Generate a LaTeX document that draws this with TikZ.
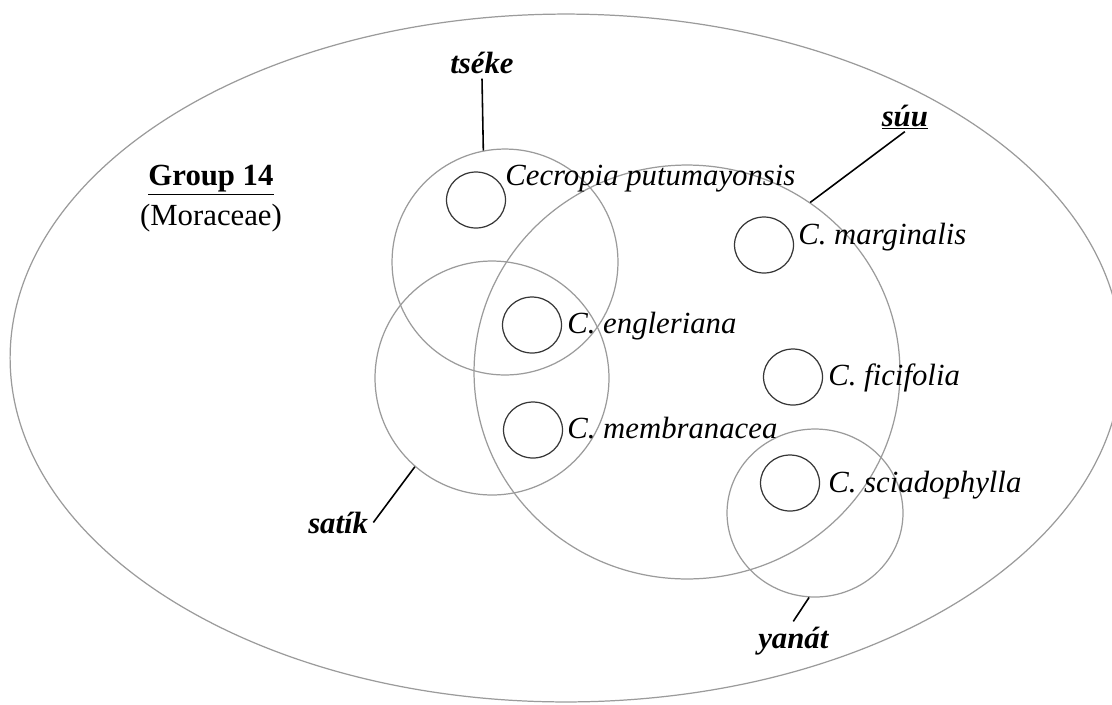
\documentclass[tikz,border=0pt]{standalone}
\usepackage{fontspec}
\setmainfont{Liberation Serif}
\usetikzlibrary{shapes.geometric}
\definecolor{setgray}{RGB}{155,155,155}
\definecolor{spgray}{RGB}{55,55,55}
\tikzset{
  setring/.style={ellipse, draw=setgray, line width=0.7pt, inner sep=0pt},
  sppoint/.style={ellipse, draw=spgray, line width=0.7pt, inner sep=0pt,
    minimum width=1.18cm, minimum height=1.12cm},
  spname/.style={anchor=base west, inner sep=0pt,
    font=\fontsize{17.5pt}{21pt}\selectfont\itshape},
  fname/.style={inner sep=0pt, outer sep=3pt,
    font=\fontsize{17.5pt}{21pt}\selectfont\bfseries\itshape},
  link/.style={black, line width=0.9pt}
}

\begin{document}
\begin{tikzpicture}[x=0.02cm,y=-0.02cm]
  \useasboundingbox (0,0) rectangle (1112,704);
  \clip (0,0) rectangle (1112,704);
  % the whole group
  \draw[setgray, line width=0.7pt] (566,358) ellipse [x radius=11.12cm, y radius=6.88cm];
  \node[font=\fontsize{17.5pt}{21pt}\selectfont\bfseries, anchor=base] (grp) at (211,185) {\underline{Group 14}};
  \node[font=\fontsize{17.5pt}{21pt}\selectfont, anchor=base] (fam) at (211,225) {(Moraceae)};
  % folk sets
  \node[setring, minimum width=4.52cm, minimum height=4.52cm] (tsekeset) at (505,262) {};
  \node[setring, minimum width=4.68cm, minimum height=4.68cm] (satikset) at (492,378) {};
  \node[setring, minimum width=8.52cm, minimum height=8.28cm] (suuset) at (687,372) {};
  \node[setring, minimum width=3.52cm, minimum height=3.36cm] (yanatset) at (815,513) {};
  % species
  \node[sppoint] (putu) at (476,200) {};
  \node[spname] (pututext) at (505,185) {Cecropia putumayonsis};
  \node[sppoint] (engl) at (532,325) {};
  \node[spname] (engltext) at (567,333) {C. engleriana};
  \node[sppoint] (memb) at (533,430) {};
  \node[spname] (membtext) at (567,438) {C. membranacea};
  \node[sppoint] (marg) at (764,245) {};
  \node[spname] (margtext) at (798,244) {C. marginalis};
  \node[sppoint] (fici) at (793,377) {};
  \node[spname] (ficitext) at (828,385) {C. ficifolia};
  \node[sppoint] (scia) at (790,483) {};
  \node[spname] (sciatext) at (828,492) {C. sciadophylla};
  % folk names
  \node[fname, anchor=base] (tseke) at (482,73) {tséke};
  \node[fname, anchor=base west, outer sep=1pt] (suu) at (880,126) {\underline{súu}};
  \node[fname, anchor=base west] (satik) at (303,533) {satík};
  \node[fname, anchor=base west] (yanat) at (753,648) {yanát};
  \draw[link] (tseke.south) -- (tsekeset.101);
  \draw[link] (suu.south) -- (suuset.54);
  \draw[link] (satik.east) -- (satikset.229);
  \draw[link] (yanat.north) -- (yanatset.266);
\end{tikzpicture}
\end{document}
